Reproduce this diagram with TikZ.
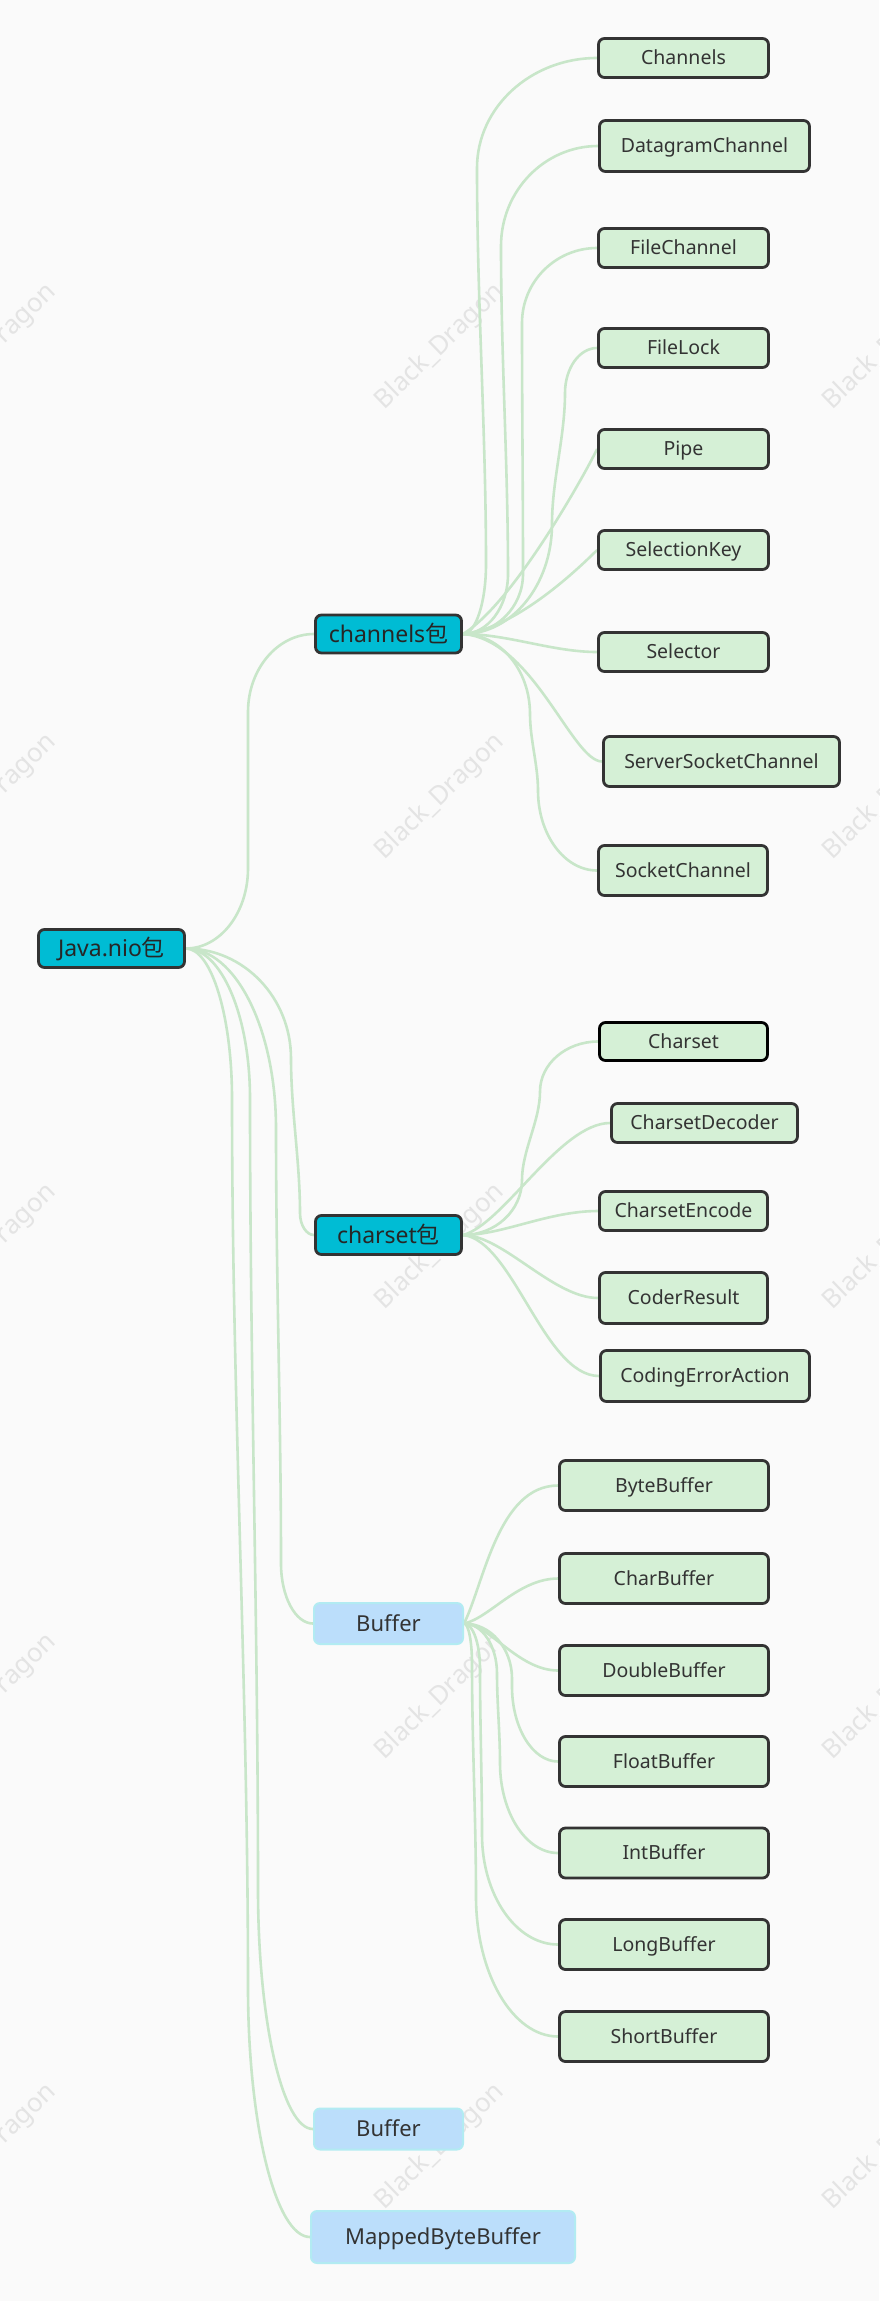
\documentclass[tikz,border=0pt]{standalone}
\usepackage{fontspec}
\setmainfont{Noto Sans}
\newfontfamily\cjk{Noto Sans CJK SC}
\usetikzlibrary{calc}
\definecolor{bgc}{RGB}{250,250,250}
\definecolor{lin}{RGB}{200,230,201}
\definecolor{gfill}{RGB}{213,240,214}
\definecolor{bord}{RGB}{51,51,51}
\definecolor{cfill}{RGB}{0,188,212}
\definecolor{bfill}{RGB}{187,222,251}
\definecolor{bbord}{RGB}{178,235,242}
\definecolor{txt}{RGB}{51,51,51}
\definecolor{wm}{RGB}{228,228,228}
\pgfdeclarelayer{bg}
\pgfdeclarelayer{lines}
\pgfsetlayers{bg,lines,main}
\tikzset{
  box/.style={rectangle, rounded corners=6pt, inner sep=0pt, align=center, text=txt},
  wh/.style 2 args={minimum width=#1pt, minimum height=#2pt},
  leaf/.style={box, draw=bord, line width=2.8pt, fill=gfill,
    font=\fontsize{19.5pt}{23pt}\selectfont, text height=13.9pt, text depth=0pt},
  pkg/.style={box, draw=bord, line width=2.8pt, fill=cfill, text=black!85,
    font=\fontsize{23pt}{27pt}\selectfont, text height=16.4pt, text depth=0pt},
  blu/.style={box, draw=bbord, line width=2pt, fill=bfill,
    font=\fontsize{22pt}{26pt}\selectfont, text height=15.7pt, text depth=0pt},
  conn/.style={draw=lin, line width=2.6pt},
  wmk/.style={text=wm, rotate=44, font=\fontsize{26pt}{30pt}\selectfont}
}
% long connector: turn, (almost) straight vertical run, turn
% #1 from, #2 to, #3 x of run start, #4 first turn height, #5 x of run end, #6 last turn height
\newcommand\curvL[6]{%
  \draw[conn] let \p1=(#1.east), \p2=(#2.west), \n1={sign(\y2-(\y1))},
      \n2={(\y2-(\y1))*\n1-#4-#6} in
    (\p1) .. controls ({\x1+0.552*(#3pt-\x1)},\y1) and (#3pt,{\y1+\n1*0.448*#4pt})
      .. (#3pt,{\y1+\n1*#4pt})
      .. controls (#3pt,{\y1+\n1*(#4+\n2/3)*1pt}) and (#5pt,{\y2-\n1*(#6+\n2/3)*1pt})
      .. (#5pt,{\y2-\n1*#6pt})
      .. controls (#5pt,{\y2-\n1*0.448*#6pt}) and ({\x2-0.552*(\x2-#5pt)},\y2) .. (\p2);}
% short connector: one cubic
\newcommand\curvS[6]{%
  \draw[conn] (#1.east) .. controls +(#3,#4) and +(#5,#6) .. (#2.west);}
\begin{document}
\begin{tikzpicture}[x=1pt,y=-1pt]
\useasboundingbox (0,0) rectangle (879,2301);

% top level and packages
\node[pkg, wh={146}{38}] (java) at (111.5,948.5) {Java.nio{\cjk 包}};
\node[pkg, wh={146}{38}] (channels) at (388.5,634) {channels{\cjk 包}};
\node[pkg, wh={146}{39}] (charset) at (388.5,1235) {charset{\cjk 包}};
\node[blu, wh={149}{41}] (buf1) at (388.5,1623.5) {Buffer};
\node[blu, wh={149}{41}] (buf2) at (388.5,2129) {Buffer};
\node[blu, wh={264}{52}] (mbb) at (443,2237) {MappedByteBuffer};

% channels children
\node[leaf, wh={170}{39}] (c1) at (683.5,58) {Channels};
\node[leaf, wh={210}{51}] (c2) at (704.5,146) {DatagramChannel};
\node[leaf, wh={170}{39}] (c3) at (683.5,248) {FileChannel};
\node[leaf, wh={170}{39}] (c4) at (683.5,348) {FileLock};
\node[leaf, wh={170}{39}] (c5) at (683.5,449) {Pipe};
\node[leaf, wh={170}{39}] (c6) at (683.5,550) {SelectionKey};
\node[leaf, wh={170}{39}] (c7) at (683.5,652) {Selector};
\node[leaf, wh={236}{50}] (c8) at (721.5,761.5) {ServerSocketChannel};
\node[leaf, wh={169}{50}] (c9) at (683,870.5) {SocketChannel};

% charset children
\node[leaf, draw=black, wh={168}{38}] (s1) at (683.5,1041.5) {Charset};
\node[leaf, wh={186}{39}] (s2) at (704.5,1123) {CharsetDecoder};
\node[leaf, wh={168}{39}] (s3) at (683.5,1211) {CharsetEncode};
\node[leaf, wh={168}{51}] (s4) at (683.5,1298) {CoderResult};
\node[leaf, wh={209}{51}] (s5) at (705,1376) {CodingErrorAction};

% buffer children
\node[leaf, wh={209}{50}] (b1) at (664,1485.5) {ByteBuffer};
\node[leaf, wh={209}{50}] (b2) at (664,1578.5) {CharBuffer};
\node[leaf, wh={209}{50}] (b3) at (664,1670.5) {DoubleBuffer};
\node[leaf, wh={209}{50}] (b4) at (664,1761.5) {FloatBuffer};
\node[leaf, wh={209}{50}] (b5) at (664,1853) {IntBuffer};
\node[leaf, wh={209}{50}] (b6) at (664,1944.5) {LongBuffer};
\node[leaf, wh={209}{50}] (b7) at (664,2036.5) {ShortBuffer};

\begin{pgfonlayer}{bg}
  \fill[bgc] (0,0) rectangle (879,2301);
  \begin{scope}
    \clip (0,0) rectangle (879,2301);
    \foreach \wx [count=\i] in {-8,440,888}
      \foreach \wy [count=\j] in {347,797,1247,1697,2147}
        \node[wmk] (wm\i\j) at (\wx,\wy) {Black\_Dragon};
  \end{scope}
\end{pgfonlayer}

\begin{pgfonlayer}{lines}
  % Java.nio
  \curvL{java}{channels}{248}{80}{248}{78}
  \curvL{java}{charset}{291}{110}{300}{22}
  \curvL{java}{buf1}{276}{180}{281}{60}
  \curvL{java}{buf2}{250}{150}{258}{240}
  \curvL{java}{mbb}{232}{150}{248}{250}
  % channels
  \curvL{channels}{c1}{486}{70}{477}{110}
  \curvL{channels}{c2}{508}{60}{501}{100}
  \curvL{channels}{c3}{523}{60}{522}{75}
  \curvL{channels}{c4}{552}{110}{565}{45}
  \curvS{channels}{c5}{50}{-30}{-12}{25}
  \curvS{channels}{c6}{50}{-5}{-25}{25}
  \curvS{channels}{c7}{45}{0}{-45}{0}
  \curvS{channels}{c8}{70}{5}{-30}{0}
  \curvL{channels}{c9}{530}{80}{538}{80}
  % charset
  \curvL{charset}{s1}{522}{55}{540}{50}
  \curvS{charset}{s2}{40}{-10}{-50}{0}
  \curvS{charset}{s3}{40}{0}{-50}{0}
  \curvS{charset}{s4}{40}{0}{-45}{0}
  \curvS{charset}{s5}{50}{5}{-55}{0}
  % buffer
  \curvS{buf1}{b1}{20}{-40}{-60}{0}
  \curvS{buf1}{b2}{25}{-5}{-40}{0}
  \curvS{buf1}{b3}{25}{0}{-40}{0}
  \curvL{buf1}{b4}{512}{55}{512}{75}
  \curvL{buf1}{b5}{497}{50}{500}{90}
  \curvL{buf1}{b6}{480}{45}{482}{110}
  \curvL{buf1}{b7}{472}{40}{476}{140}
\end{pgfonlayer}
\end{tikzpicture}
\end{document}
